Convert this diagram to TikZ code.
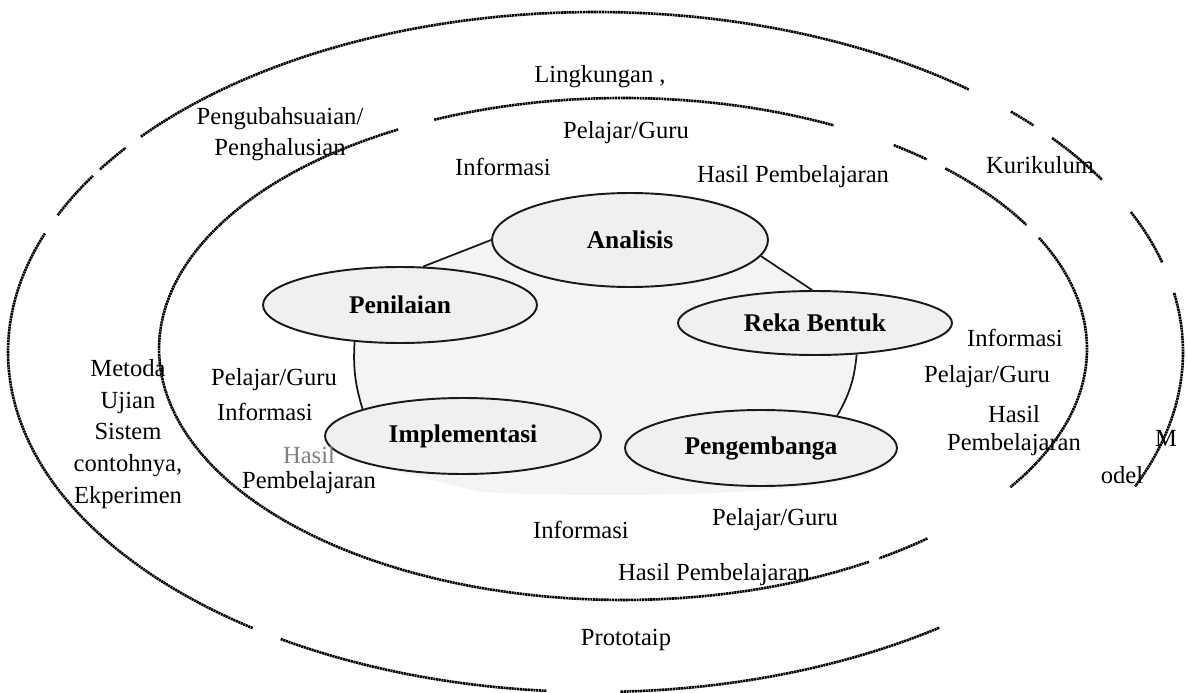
\documentclass[tikz,border=0pt]{standalone}
\usepackage{fontspec}
\setmainfont{Liberation Serif}
\usetikzlibrary{shapes.geometric}
\pgfdeclarelayer{bg}
\pgfsetlayers{bg,main}
\begin{document}
\begin{tikzpicture}[x=0.02cm, y=-0.02cm,
  ring/.style={line width=1.5pt, dash pattern=on 1.2pt off 0.35pt, black},
  phase/.style={ellipse, draw=black!90, line width=1.1pt, fill=gray!12, inner sep=0pt,
    font=\fontsize{14.5}{17}\selectfont\bfseries},
  lbl/.style={font=\fontsize{14}{18}\selectfont, inner sep=0pt, align=center},
  link/.style={line width=1pt, black!90}
]
\useasboundingbox (0,0) rectangle (1187,693);

% outer ring (broken dotted ellipse)
\foreach \a/\b in {219.3/309.5, 315/318.2, 321/329.6, 335.7/344.8, 350/383.3,
                   54.2/87.6, 94.8/122.4, 125.7/200.4, 203.7/211.2, 212.5/216.9}
  \draw[ring] plot[domain=\a:\b, samples=80] ({595.5+587.5*cos(\x)},{352+340*sin(\x)});

% middle ring
\foreach \a/\b in {246/297, 305.7/310.9, 314/330.4, 333.7/393.4, 49/56.5, 58/241}
  \draw[ring] plot[domain=\a:\b, samples=80] ({623+464*cos(\x)},{349+251*sin(\x)});

% development phases
\node[phase, minimum width=5.52cm, minimum height=1.88cm] (ana) at (630,240) {Analisis};
\node[phase, minimum width=5.48cm, minimum height=1.52cm] (pen) at (400,305) {Penilaian};
\node[phase, minimum width=5.48cm, minimum height=1.28cm] (reka) at (815,323) {Reka Bentuk};
\node[phase, minimum width=5.52cm, minimum height=1.52cm] (impl) at (463,436) {Implementasi};
\node[phase, minimum width=5.44cm, minimum height=1.52cm] (peng) at (761,448) {Pengembanga};

% links between phases
\draw[link] (pen.59) -- (ana.180);
\draw[link] (ana.-7) -- (reka.95);
\draw[link] (reka.-37) to[bend left=12] (peng.23);
\draw[link] (pen.-141) to[bend right=10] (impl.165);

% shaded cycle area behind the phases
\begin{pgfonlayer}{bg}
\fill[gray!9] (pen.59) -- (ana.180) -- (ana.-7) -- (reka.95) -- (reka.-37)
  to[bend left=12] (peng.23) -- (peng.-10) -- (860,478)
  .. controls (780,496) and (600,498) .. (480,492) -- (impl.200) -- (impl.165)
  to[bend left=10] (pen.-141) -- cycle;
\end{pgfonlayer}

% ring labels
\node[lbl] (lingk) at (600,77) {Lingkungan ,};
\node[lbl] (pengub) at (280,134) {Pengubahsuaian/\\Penghalusian};
\node[lbl] (kuri) at (1040,165) {Kurikulum};
\node[lbl] (pgtop) at (626,133) {Pelajar/Guru};
\node[lbl] (inftop) at (503,167) {Informasi};
\node[lbl] (hptop) at (793,177) {Hasil Pembelajaran};
\node[lbl] (infr) at (1015,338) {Informasi};
\node[lbl] (pgr) at (987,377) {Pelajar/Guru};
\node[lbl, font=\fontsize{14}{16}\selectfont] (hpr) at (1014,431) {Hasil\\Pembelajaran};
\node[lbl] (modm) at (1166,438) {M};
\node[lbl] (modo) at (1122,475) {odel};
\node[lbl] (metoda) at (128,434) {Metoda\\Ujian\\Sistem\\contohnya,\\Ekperimen};
\node[lbl] (pgl) at (274,380) {Pelajar/Guru};
\node[lbl] (infl) at (265,412) {Informasi};
\node[lbl, text=gray] (hasl) at (309,455) {Hasil};
\node[lbl] (pembl) at (309,483) {Pembelajaran};
\node[lbl] (infb) at (581,530) {Informasi};
\node[lbl] (pgb) at (775,520) {Pelajar/Guru};
\node[lbl] (hpb) at (714,575) {Hasil Pembelajaran};
\node[lbl] (proto) at (626,640) {Prototaip};
\end{tikzpicture}
\end{document}
